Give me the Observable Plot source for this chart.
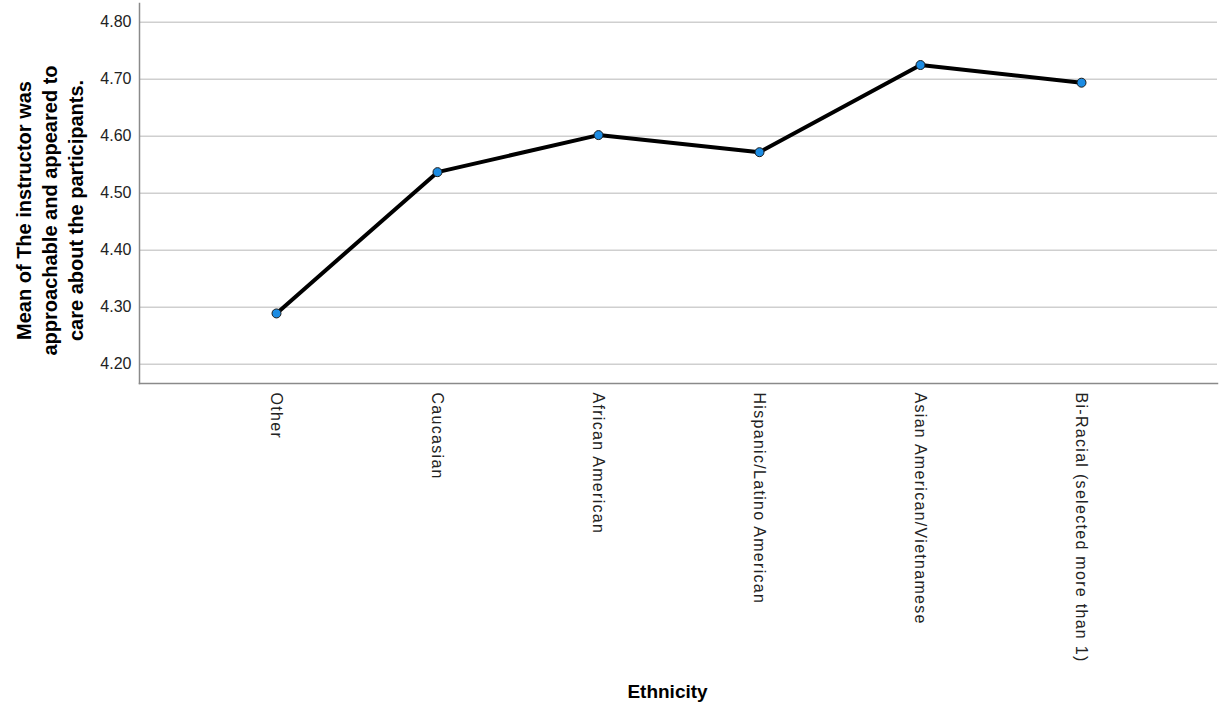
<!DOCTYPE html>
<html>
<head>
<meta charset="utf-8">
<script src="https://cdn.jsdelivr.net/npm/d3@7"></script>
<script src="https://cdn.jsdelivr.net/npm/@observablehq/plot@0.6"></script>
<style>
  html, body { margin: 0; padding: 0; background: #fff; }
  .chart g[aria-label="x-axis tick label"] text { letter-spacing: 1.3px; }
</style>
</head>
<body>
<div id="chart"></div>
<script>
const categories = [
  "Other",
  "Caucasian",
  "African American",
  "Hispanic/Latino American",
  "Asian American/Vietnamese",
  "Bi-Racial (selected more than 1)"
];
const means = [4.289, 4.537, 4.602, 4.572, 4.725, 4.694];
const yTicks = [4.20, 4.30, 4.40, 4.50, 4.60, 4.70, 4.80];
const yDomain = [4.166, 4.833];
const yTitle = "Mean of The instructor was\napproachable and appeared to\ncare about the participants.";
const xTitle = "Ethnicity";

const data = categories.map((c, i) => ({category: c, mean: means[i]}));

const chart = Plot.plot({
  className: "chart",
  width: 1221,
  height: 715,
  marginLeft: 139,
  marginRight: 4,
  marginTop: 3,
  marginBottom: 332,
  style: {fontFamily: "Arial, 'Liberation Sans', sans-serif", background: "#fff", color: "#222"},
  x: {type: "point", domain: categories, padding: 0.835, label: null},
  y: {domain: yDomain, label: null},
  marks: [
    Plot.gridY(yTicks, {stroke: "#cfcfcf", strokeOpacity: 1, strokeWidth: 1.5}),
    Plot.frame({anchor: "left", stroke: "#8a8a8a", strokeWidth: 1.5}),
    Plot.frame({anchor: "bottom", stroke: "#8a8a8a", strokeWidth: 1.5}),
    Plot.axisY(yTicks, {tickSize: 0, tickPadding: 8, tickFormat: d => d.toFixed(2), fontSize: 16, label: null, fill: "#222"}),
    Plot.axisX({tickSize: 0, tickPadding: 9, tickRotate: 90, fontSize: 16, label: null, fill: "#222"}),
    Plot.line(data, {x: "category", y: "mean", stroke: "#000", strokeWidth: 4, strokeLinejoin: "round"}),
    Plot.dot(data, {x: "category", y: "mean", r: 4.5, fill: "#1c8ce3", stroke: "#1a1a1a", strokeWidth: 1, fillOpacity: 1}),
    Plot.text([yTitle], {frameAnchor: "left", rotate: -90, dx: -91, dy: 17, fontSize: 20, fontWeight: "bold", lineHeight: 1.3, textAnchor: "middle", fill: "#000"}),
    Plot.text([xTitle], {frameAnchor: "bottom", dx: -11, dy: 314, fontSize: 19, fontWeight: "bold", fill: "#000"})
  ]
});
document.getElementById("chart").appendChild(chart);
</script>
</body>
</html>
